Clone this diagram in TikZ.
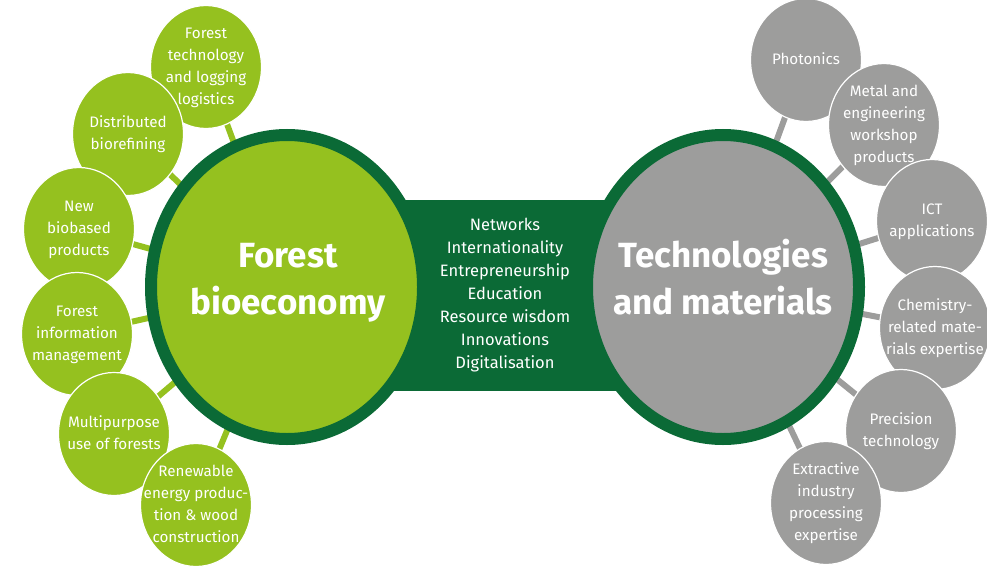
\documentclass[tikz,border=0pt]{standalone}
\usepackage{fontspec}
\setmainfont{Fira Sans}
\usetikzlibrary{shapes.geometric,backgrounds}
\definecolor{leafgreen}{HTML}{95C11F}
\definecolor{pinegreen}{HTML}{0B6A36}
\definecolor{stonegrey}{HTML}{9D9D9C}
% text that does not push the ellipse wider
\newcommand{\lines}[1]{\makebox[0pt]{\smash{\raisebox{-3.5pt}{\begin{tabular}{@{}c@{}}#1\end{tabular}}}}}
\begin{document}
\begin{tikzpicture}[x=1pt,y=-1pt,
	hubring/.style={ellipse, draw=pinegreen, line width=12pt, minimum width=272pt, minimum height=304pt, inner sep=0pt},
	hubtitle/.style={text=white, align=center, font=\fontsize{35}{47}\selectfont\bfseries},
	topic/.style={ellipse, draw=white, line width=1.2pt, minimum width=111pt, minimum height=123pt, inner sep=0pt, text=white, font=\fontsize{15.2}{22}\selectfont},
	link/.style={line width=6pt, shorten <=-5pt, shorten >=-5pt}]
		\useasboundingbox (0,0) rectangle (987,567);
		
		% Middle band
		\node[fill=pinegreen, minimum width=250pt, minimum height=191pt, inner sep=0pt, text=white, align=center, font=\fontsize{16.5}{23}\selectfont] (band) at (505,295.5) {Networks\\Internationality\\Entrepreneurship\\Education\\Resource wisdom\\Innovations\\Digitalisation};
		
		% Forest bioeconomy
		\node[hubring, fill=leafgreen] (forest) at (287,287) {};
		\node[hubtitle] (forestT) at (288,283) {Forest\\bioeconomy};
		\node[topic, fill=leafgreen] (f1) at (206,67) {\lines{Forest\\technology\\and logging\\logistics}};
		\node[topic, fill=leafgreen] (f2) at (128,134) {\lines{Distributed\\biorefining}};
		\node[topic, fill=leafgreen] (f3) at (79,229) {\lines{New\\biobased\\products}};
		\node[topic, fill=leafgreen] (f4) at (77,334) {\lines{Forest\\information\\management}};
		\node[topic, fill=leafgreen] (f5) at (114,434) {\lines{Multipurpose\\use of forests}};
		\node[topic, fill=leafgreen] (f6) at (196,505) {\lines{Renewable\\energy produc-\\tion \& wood\\construction}};
		
		% Technologies and materials
		\node[hubring, fill=stonegrey] (tech) at (723,287) {};
		\node[hubtitle] (techT) at (723,277) {Technologies\\and materials};
		\node[topic, fill=stonegrey] (t1) at (806,60) {\lines{Photonics}};
		\node[topic, fill=stonegrey] (t2) at (884,125) {\lines{Metal and\\engineering\\workshop\\products}};
		\node[topic, fill=stonegrey] (t3) at (932,221) {\lines{ICT\\applications}};
		\node[topic, fill=stonegrey] (t4) at (935,328) {\lines{Chemistry-\\related mate-\\rials expertise}};
		\node[topic, fill=stonegrey] (t5) at (901,431) {\lines{Precision\\technology}};
		\node[topic, fill=stonegrey] (t6) at (826,503) {\lines{Extractive\\industry\\processing\\expertise}};
		
		% Links behind everything
		\begin{scope}[on background layer]
			\foreach \t in {f1,f2,f3,f4,f5,f6}
				\draw[link, leafgreen] (\t) -- (forest);
			\foreach \t in {t1,t2,t3,t4,t5,t6}
				\draw[link, stonegrey] (\t) -- (tech);
		\end{scope}
		
	\end{tikzpicture}
\end{document}
